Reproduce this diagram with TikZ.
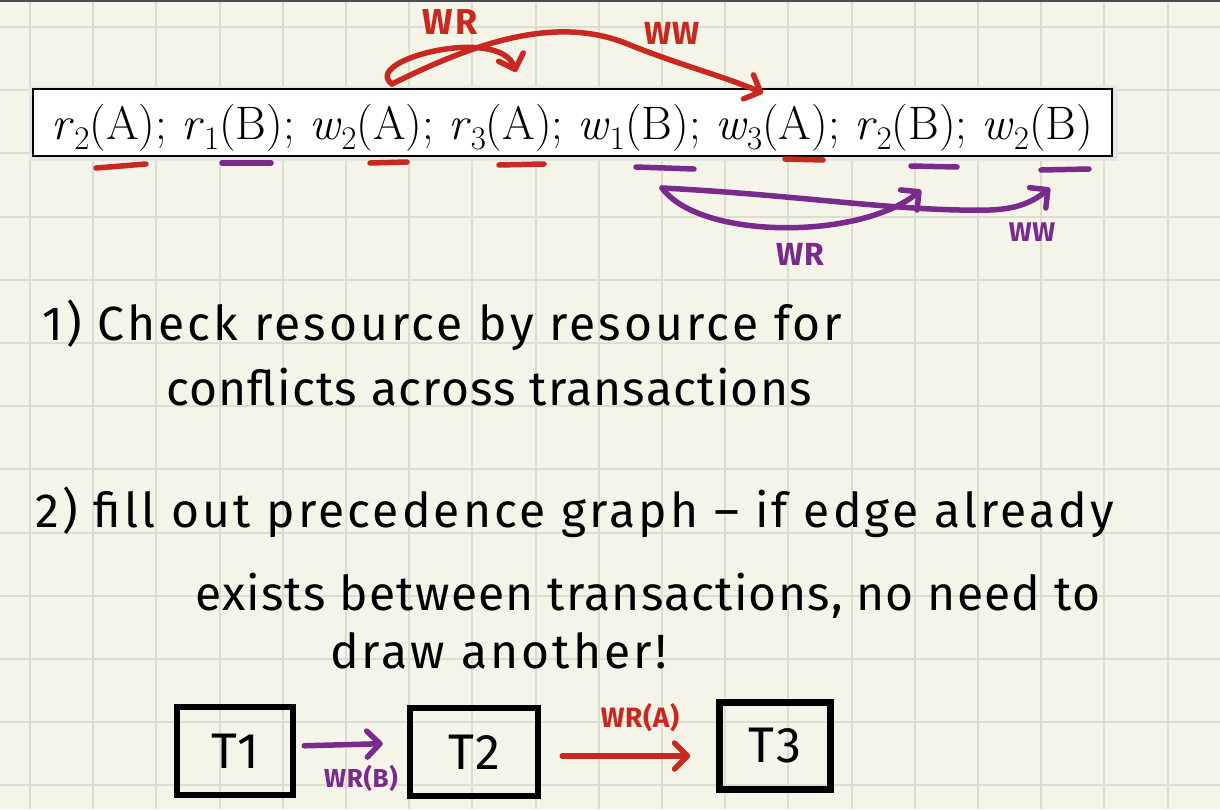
\documentclass[tikz,border=0pt]{standalone}
\usepackage{fontspec}
\newfontfamily\handfont{Fira Sans}[LetterSpace=2.5]
\newfontfamily\handwide{Fira Sans}[LetterSpace=6.5]
\usetikzlibrary{arrows.meta}

\definecolor{paper}{RGB}{245,244,233}
\definecolor{gridink}{RGB}{222,220,206}
\definecolor{redink}{RGB}{200,40,32}
\definecolor{purpink}{RGB}{122,42,140}

% one operation of the schedule, e.g. \schedop{r}{2}{A}
\newcommand{\schedop}[3]{\textit{#1}\raisebox{-0.22em}{\fontsize{33}{33}\selectfont #2}(#3)}

\tikzset{
  barb/.tip={Straight Barb[length=13pt,width=26pt,line cap=round,line join=round]},
  pen/.style={line width=5.5pt,line cap=round,line join=round},
  redpen/.style={pen,draw=redink},
  purpen/.style={pen,draw=purpink},
  handtext/.style={anchor=base west,inner sep=0pt,font=\handfont\fontsize{48}{56}\selectfont},
  inklabel/.style={inner sep=0pt,font=\handfont\bfseries\fontsize{32}{36}\selectfont},
  tbox/.style={draw,line width=6.5pt,minimum height=88pt,inner sep=0pt,
    font=\handfont\fontsize{50}{56}\selectfont}
}

\begin{document}
\begin{tikzpicture}[x=1pt,y=-1pt]
\useasboundingbox (0,0) rectangle (1220,809);
\fill[paper] (0,0) rectangle (1220,809);
% squared paper
\foreach \i in {0,...,19} \draw[gridink,line width=2pt] (30+63.2*\i,0) -- (30+63.2*\i,809);
\foreach \j in {0,...,12} \draw[gridink,line width=2pt] (0,27+63.2*\j) -- (1220,27+63.2*\j);
\draw[black!70,line width=2pt] (0,1) -- (1220,1);

% the schedule
\fill[black!10] (29,86) rectangle (1118,161);
\node[draw,fill=white,line width=1.6pt,minimum width=1079pt,minimum height=67pt,inner sep=0pt,
  text height=45pt,text depth=12pt]
  (sched) at (572.5,122.5)
  {\fontsize{47}{52}\selectfont \schedop{r}{2}{A}; \schedop{r}{1}{B}; \schedop{w}{2}{A}; \schedop{r}{3}{A};
   \schedop{w}{1}{B}; \schedop{w}{3}{A}; \schedop{r}{2}{B}; \schedop{w}{2}{B}};

% underlines, A in red and B in purple
\draw[redpen] (96,168) -- (146,164);
\draw[purpen] (222,163) -- (271,163);
\draw[redpen] (370,163) -- (407,162);
\draw[redpen] (499,165) -- (544,164);
\draw[purpen] (636,167) -- (694,169);
\draw[redpen] (785,159) -- (823,160);
\draw[purpen] (911,166) -- (957,167);
\draw[purpen] (1041,170) -- (1089,169);

\coordinate (wtwoA) at (392,84);
\coordinate (rthreeA) at (516,72);
\coordinate (wthreeA) at (763,93);
\coordinate (woneB) at (662,188);
\coordinate (rtwoB) at (921,190);
\coordinate (wtwoB) at (1050,188);

% resource A
\draw[redpen,-barb] (wtwoA) .. controls (360,60) and (500,25) .. (rthreeA);
\draw[redpen,-barb] (wtwoA) .. controls (480,40) and (560,15) .. (630,45)
  .. controls (680,65) and (720,75) .. (wthreeA);
\node[inklabel,text=redink,font=\handwide\bfseries\fontsize{36}{40}\selectfont] (lblAwr) at (450,22) {WR};
\node[inklabel,text=redink] (lblAww) at (672,33) {WW};

% resource B
\draw[purpen,-barb] (woneB) .. controls (700,240) and (860,240) .. (rtwoB);
\draw[purpen,-barb] (woneB) .. controls (800,195) and (900,212) .. (990,210)
  .. controls (1020,209) and (1035,200) .. (wtwoB);
\node[inklabel,text=purpink] (lblBwr) at (800,254) {WR};
\node[inklabel,text=purpink,font=\handfont\bfseries\fontsize{27}{30}\selectfont] (lblBww) at (1032,232) {WW};

% steps
\node[handtext,font=\handwide\fontsize{48}{56}\selectfont] (stepone) at (42,340) {1) Check resource by resource for};
\node[handtext] (steponeb) at (166,405) {conflicts across transactions};
\node[handtext,font=\handwide\fontsize{48}{56}\selectfont] (steptwo) at (35,527) {2) fill out precedence graph – if edge already};
\node[handtext] (steptwob) at (195,610) {exists between transactions, no need to};
\node[handtext,font=\handwide\fontsize{48}{56}\selectfont] (steptwoc) at (330,668) {draw another!};

% precedence graph
\node[tbox,minimum width=116pt] (T1) at (235,751) {T1};
\node[tbox,minimum width=128pt] (T2) at (474,752) {T2};
\node[tbox,minimum width=111pt,minimum height=87pt] (T3) at (775,746) {T3};

\draw[purpen,-barb,shorten <=8pt,shorten >=24pt] ([yshift=5pt]T1.east) -- ([yshift=9pt]T2.west);
\node[inklabel,text=purpink,font=\handfont\bfseries\fontsize{26}{30}\selectfont] (lblTb) at (361,778) {WR(B)};
\draw[redpen,-barb,shorten <=21pt,shorten >=26pt] ([yshift=-4pt]T2.east) -- ([yshift=-10pt]T3.west);
\node[inklabel,text=redink,font=\handfont\bfseries\fontsize{28}{32}\selectfont] (lblTa) at (640,718) {WR(A)};

\end{tikzpicture}
\end{document}
